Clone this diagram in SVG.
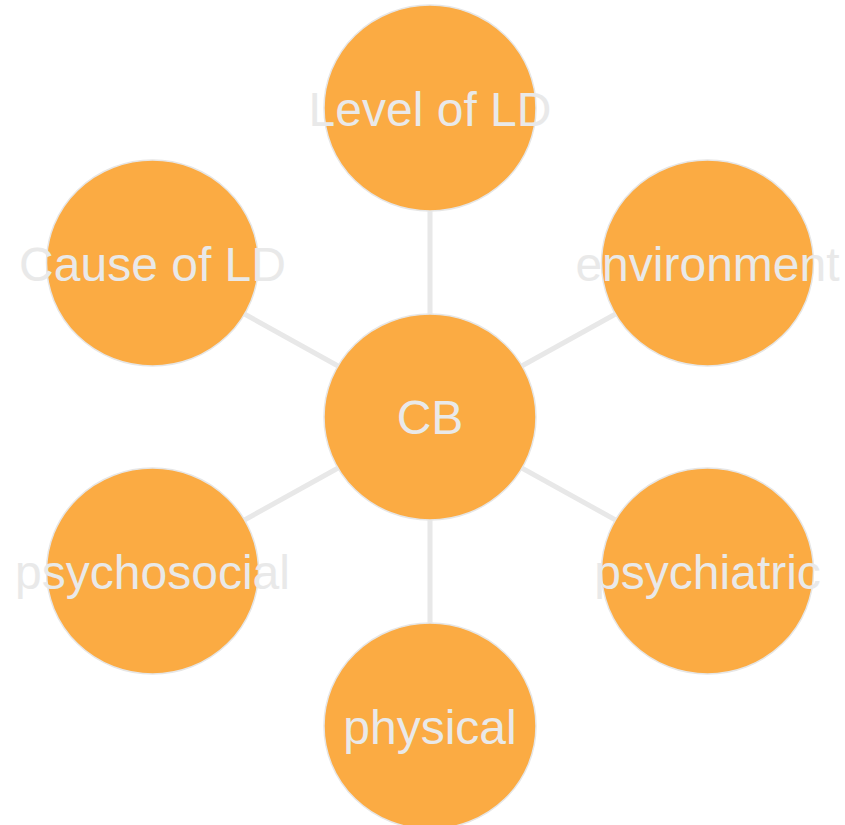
<svg xmlns="http://www.w3.org/2000/svg" width="845" height="825" viewBox="0 0 845 825">
<style>
.node ellipse{fill:#fbab43;stroke:#e6e6e6;stroke-width:1.5}
.node text{font-family:"Liberation Sans",Arial,sans-serif;font-size:48px;fill:#e9e9e9;text-anchor:middle}
.edges line{stroke:#e8e8e8;stroke-width:5}
</style>
<rect width="845" height="825" fill="#ffffff"/>
<g class="edges">
<line x1="430" y1="417" x2="430" y2="108"/>
<line x1="430" y1="417" x2="152.5" y2="263"/>
<line x1="430" y1="417" x2="707.5" y2="263"/>
<line x1="430" y1="417" x2="152.5" y2="571"/>
<line x1="430" y1="417" x2="707.5" y2="571"/>
<line x1="430" y1="417" x2="430" y2="726"/>
</g>
<g id="cb" class="node"><ellipse cx="430" cy="417" rx="106" ry="103"/><text x="430" y="434">CB</text></g>
<g id="level" class="node"><ellipse cx="430" cy="108" rx="106" ry="103"/><text x="430" y="126">Level of LD</text></g>
<g id="cause" class="node"><ellipse cx="152.5" cy="263" rx="106" ry="103"/><text x="152.5" y="281">Cause of LD</text></g>
<g id="environment" class="node"><ellipse cx="707.5" cy="263" rx="106" ry="103"/><text x="707.5" y="281">environment</text></g>
<g id="psychosocial" class="node"><ellipse cx="152.5" cy="571" rx="106" ry="103"/><text x="152.5" y="589">psychosocial</text></g>
<g id="psychiatric" class="node"><ellipse cx="707.5" cy="571" rx="106" ry="103"/><text x="707.5" y="589">psychiatric</text></g>
<g id="physical" class="node"><ellipse cx="430" cy="726" rx="106" ry="103"/><text x="430" y="744">physical</text></g>
</svg>
